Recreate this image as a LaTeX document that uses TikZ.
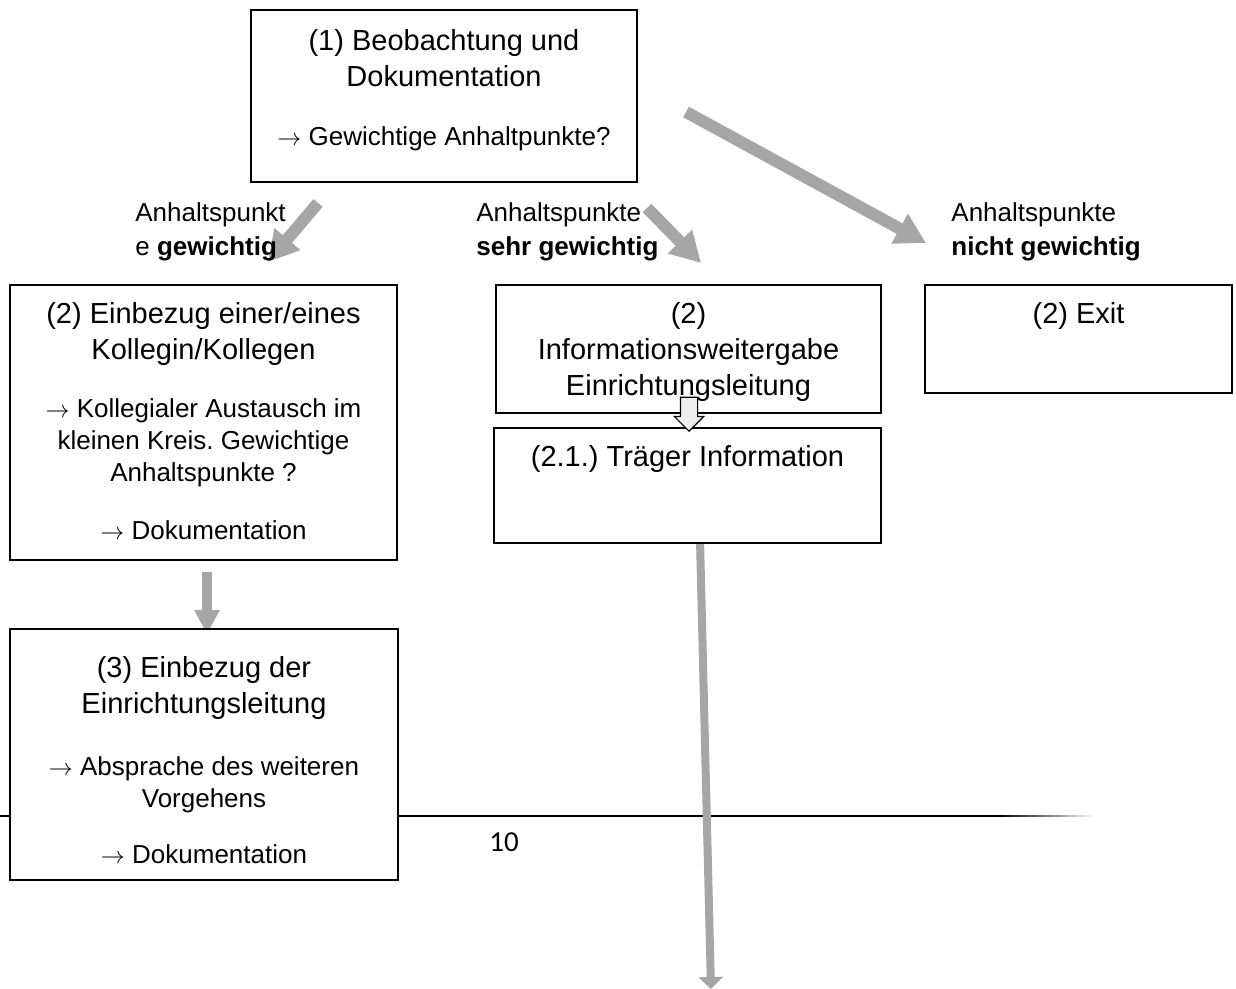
\documentclass[tikz,border=0pt]{standalone}
\usepackage{fontspec}
\setmainfont{Liberation Sans}
\newfontfamily\pagefont{Carlito}
\usepackage{xcolor}
\usetikzlibrary{arrows.meta,shapes.arrows}
\frenchspacing

\definecolor{arrowgray}{HTML}{A6A6A6}
\definecolor{hollowfill}{HTML}{EEEEEE}

\tikzset{
  box/.style={draw, line width=1pt, fill=white, inner sep=0pt},
  headtxt/.style={font=\fontsize{14.5}{18}\selectfont, align=center, anchor=north, inner sep=0pt},
  subtxt/.style={font=\fontsize{13}{16}\selectfont, align=center, anchor=north, inner sep=0pt},
  lbl/.style={font=\fontsize{13}{17}\selectfont, align=left, anchor=north west, inner sep=0pt},
  bigarrow/.style={draw=arrowgray, line width=6pt, -{Triangle[length=15pt,width=16pt]}},
}

\begin{document}
\begin{tikzpicture}[x=0.5pt, y=-0.5pt]
\useasboundingbox (0,0) rectangle (1236,989);

% page footer of the source document
\draw[line width=1pt] (0,816) -- (1000,816);
\shade[left color=black, right color=white] (1000,815.2) rectangle (1095,816.8);
\node[font=\pagefont\fontsize{14.5}{16}\selectfont, inner sep=0pt] (pagenum) at (504,842) {10};

% arrow ends
\coordinate (a1s) at (318,203);
\coordinate (a1e) at (268,262);
\coordinate (a2s) at (647,208);
\coordinate (a2e) at (701,263);
\coordinate (a3s) at (686,112);
\coordinate (a3e) at (926,243);
\coordinate (a4s) at (207,572);
\coordinate (a4e) at (207,634);
\coordinate (a5s) at (700,540);
\coordinate (a5e) at (711,989);

\draw[bigarrow] (a1s) -- (a1e);
\draw[bigarrow] (a2s) -- (a2e);
\draw[bigarrow] (a3s) -- (a3e);
\draw[draw=arrowgray, line width=5pt, -{Triangle[length=12pt,width=12pt]}] (a4s) -- (a4e);
\draw[draw=arrowgray, line width=4pt, -{Triangle[length=6pt,width=12pt]}] (a5s) -- (a5e);

% labels
\node[lbl] (lgew) at (135,202) {Anhaltspunkt\\e \textbf{gewichtig}};
\node[lbl] (lsehr) at (476,202) {Anhaltspunkte\\\textbf{sehr gewichtig}};
\node[lbl] (lnicht) at (951,202) {Anhaltspunkte\\\textbf{nicht gewichtig}};

% boxes
\node[box, minimum width=193pt, minimum height=86pt] (beob) at (444,96) {};
\node[box, minimum width=193.5pt, minimum height=137.5pt] (koll) at (203.5,422.5) {};
\node[box, minimum width=192.5pt, minimum height=64pt] (info) at (688.5,349) {};
\node[box, minimum width=193.5pt, minimum height=57.5pt] (traeger) at (687.5,485.5) {};
\node[box, minimum width=153.5pt, minimum height=54pt] (exit) at (1078.5,339) {};
\node[box, minimum width=194pt, minimum height=125.5pt] (leit) at (204,754.5) {};

% box texts
\node[headtxt] (beobT) at (444,29) {(1) Beobachtung und\\Dokumentation};
\node[subtxt] (beobS) at (444,126) {$\rightarrow$ Gewichtige Anhaltpunkte?};
\node[headtxt] (kollT) at (203.5,302) {(2) Einbezug einer/eines\\Kollegin/Kollegen};
\node[subtxt] (kollS) at (203.5,398) {$\rightarrow$ Kollegialer Austausch im\\kleinen Kreis. Gewichtige\\Anhaltspunkte ?\\[13pt]$\rightarrow$ Dokumentation};
\node[headtxt] (infoT) at (688.5,302) {(2)\\Informationsweitergabe\\Einrichtungsleitung};
\node[headtxt] (traegerT) at (687.5,445) {(2.1.) Träger Information};
\node[headtxt] (exitT) at (1078.5,302) {(2) Exit};
\node[headtxt] (leitT) at (204,656) {(3) Einbezug der\\Einrichtungsleitung};
\node[subtxt] (leitS) at (204,756) {$\rightarrow$ Absprache des weiteren\\Vorgehens\\[12pt]$\rightarrow$ Dokumentation};

% small hollow arrow
\node[single arrow, draw, fill=hollowfill, line width=0.6pt, rotate=-90,
  inner xsep=0pt, inner ysep=4pt, single arrow head extend=3pt,
  minimum height=17pt, anchor=tip] (hollow) at (689,432) {};
\end{tikzpicture}
\end{document}
